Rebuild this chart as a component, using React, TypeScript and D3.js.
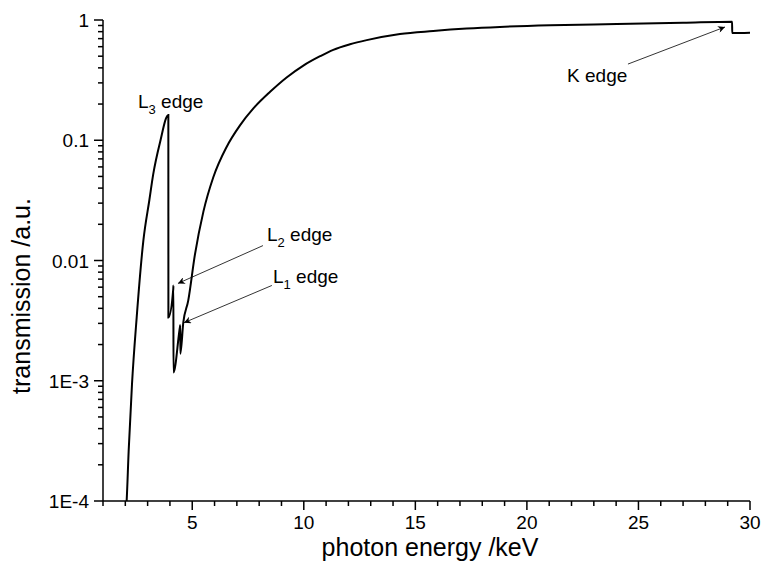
import { useEffect, useRef } from 'react';
import * as d3 from 'd3';

// tin transmission
const energy = [
  2.0, 2.06, 2.15, 2.3, 2.51, 2.81, 3.08, 3.25, 3.55, 3.929,
  3.931, 4.15, 4.156, 4.158, 4.46, 4.465, 4.467, 4.6, 4.82, 5.12,
  5.5, 5.94, 6.54, 7.14, 7.74, 8.49, 9.23, 9.98, 10.73, 11.32,
  12.07, 12.82, 14.31, 15.8, 17.3, 18.79, 21.04, 24.03, 27.0, 29.199,
  29.201, 30.0,
];
const transmission = [
  0.00007, 0.0001, 0.00026, 0.00094, 0.00337, 0.0147, 0.032, 0.052, 0.095, 0.162,
  0.00335, 0.0058, 0.0062, 0.00117, 0.00287, 0.0029, 0.00168, 0.00306, 0.00464, 0.0112,
  0.0255, 0.049, 0.088, 0.133, 0.184, 0.253, 0.333, 0.418, 0.5, 0.565,
  0.628, 0.68, 0.765, 0.81, 0.848, 0.876, 0.905, 0.926, 0.948, 0.968,
  0.78, 0.785,
];

const xTicks = [5, 10, 15, 20, 25, 30];
const yTicks = [1e-4, 1e-3, 0.01, 0.1, 1];
const yTickLabels = ['1E-4', '1E-3', '0.01', '0.1', '1'];

const font = 'Arial, "Liberation Sans", sans-serif';

function App() {
  const svgRef = useRef<SVGSVGElement>(null);

  useEffect(() => {
    const width = 762;
    const height = 572;
    const margin = { top: 20, right: 12, bottom: 71, left: 103 };

    const svg = d3.select(svgRef.current);
    svg.selectAll('*').remove();

    const x = d3
      .scaleLinear()
      .domain([1, 30])
      .range([margin.left, width - margin.right]);
    const y = d3
      .scaleLog()
      .domain([1e-4, 1])
      .range([height - margin.bottom, margin.top]);

    const defs = svg.append('defs');
    defs
      .append('clipPath')
      .attr('id', 'plot-clip')
      .append('rect')
      .attr('x', margin.left)
      .attr('y', margin.top - 5)
      .attr('width', width - margin.left - margin.right)
      .attr('height', height - margin.top - margin.bottom + 5);

    const points = energy.map((e, i) => [e, transmission[i]] as [number, number]);
    const line = d3
      .line<[number, number]>()
      .x(d => x(d[0]))
      .y(d => y(d[1]))
      .curve(d3.curveMonotoneX);

    svg
      .append('path')
      .attr('clip-path', 'url(#plot-clip)')
      .attr('d', line(points))
      .attr('fill', 'none')
      .attr('stroke', '#000')
      .attr('stroke-width', 2);

    // x axis
    const xMinor = d3.range(1, 31);
    const xAxis = svg.append('g');
    xAxis
      .append('line')
      .attr('x1', x(1))
      .attr('x2', x(30))
      .attr('y1', y(1e-4))
      .attr('y2', y(1e-4))
      .attr('stroke', '#000')
      .attr('stroke-width', 1.5);
    xAxis
      .selectAll('line.tick')
      .data(xMinor)
      .enter()
      .append('line')
      .attr('class', 'tick')
      .attr('x1', d => x(d))
      .attr('x2', d => x(d))
      .attr('y1', y(1e-4))
      .attr('y2', d => y(1e-4) + (d % 5 === 0 ? 9 : 5))
      .attr('stroke', '#000')
      .attr('stroke-width', 1.5);
    xAxis
      .selectAll('text')
      .data(xTicks)
      .enter()
      .append('text')
      .attr('x', d => x(d))
      .attr('y', y(1e-4) + 28)
      .attr('text-anchor', 'middle')
      .style('font-family', font)
      .style('font-size', '19px')
      .text(d => d);

    // y axis
    const yMinor: number[] = [];
    for (let p = -4; p < 0; p++) {
      for (let m = 1; m < 10; m++) yMinor.push(m * Math.pow(10, p));
    }
    yMinor.push(1);
    const yAxis = svg.append('g');
    yAxis
      .append('line')
      .attr('x1', x(1))
      .attr('x2', x(1))
      .attr('y1', y(1e-4))
      .attr('y2', y(1))
      .attr('stroke', '#000')
      .attr('stroke-width', 1.5);
    yAxis
      .selectAll('line.tick')
      .data(yMinor)
      .enter()
      .append('line')
      .attr('class', 'tick')
      .attr('y1', d => y(d))
      .attr('y2', d => y(d))
      .attr('x1', x(1))
      .attr('x2', d => x(1) - (yTicks.some(t => Math.abs(t - d) / t < 1e-6) ? 9 : 5))
      .attr('stroke', '#000')
      .attr('stroke-width', 1.5);
    yAxis
      .selectAll('text')
      .data(yTicks)
      .enter()
      .append('text')
      .attr('x', x(1) - 14)
      .attr('y', d => y(d) + 7)
      .attr('text-anchor', 'end')
      .style('font-family', font)
      .style('font-size', '19px')
      .text((_, i) => yTickLabels[i]);

    // titles
    svg
      .append('text')
      .attr('x', 430)
      .attr('y', height - 16)
      .attr('text-anchor', 'middle')
      .style('font-family', font)
      .style('font-size', '25px')
      .text('photon energy /keV');
    svg
      .append('text')
      .attr('transform', `translate(30, 296) rotate(-90)`)
      .attr('text-anchor', 'middle')
      .style('font-family', font)
      .style('font-size', '25px')
      .text('transmission /a.u.');

    // annotations
    const addLabel = (e: number, t: number, sub: string, rest: string) => {
      const txt = svg
        .append('text')
        .attr('x', x(e))
        .attr('y', y(t))
        .style('font-family', font)
        .style('font-size', '19px');
      txt.append('tspan').text(sub ? 'L' : rest);
      if (sub) {
        txt.append('tspan').attr('dy', 6).style('font-size', '13px').text(sub);
        txt.append('tspan').attr('dy', -6).text(` ${rest}`);
      }
    };
    addLabel(2.57, 0.185, '3', 'edge');
    addLabel(8.35, 0.0144, '2', 'edge');
    addLabel(8.62, 0.00645, '1', 'edge');
    addLabel(21.8, 0.304, '', 'K edge');

    const marker = defs
      .append('marker')
      .attr('id', 'arrow')
      .attr('viewBox', '0 0 10 10')
      .attr('refX', 10)
      .attr('refY', 5)
      .attr('markerWidth', 10)
      .attr('markerHeight', 7)
      .attr('markerUnits', 'userSpaceOnUse')
      .attr('orient', 'auto');
    marker.append('path').attr('d', 'M0,0 L10,5 L0,10 L3,5 Z').attr('fill', '#000');

    const arrows = [
      [8.17, 0.0133, 4.36, 0.00645],
      [8.57, 0.0062, 4.63, 0.00304],
      [24.53, 0.43, 28.88, 0.875],
    ];
    svg
      .selectAll('line.arrow')
      .data(arrows)
      .enter()
      .append('line')
      .attr('class', 'arrow')
      .attr('x1', d => x(d[0]))
      .attr('y1', d => y(d[1]))
      .attr('x2', d => x(d[2]))
      .attr('y2', d => y(d[3]))
      .attr('stroke', '#000')
      .attr('stroke-width', 0.8)
      .attr('marker-end', 'url(#arrow)');
  }, []);

  return (
    <svg
      ref={svgRef}
      width={762}
      height={572}
      style={{ position: 'absolute', left: 0, top: 0, background: '#fff' }}
    />
  );
}

export default App;
